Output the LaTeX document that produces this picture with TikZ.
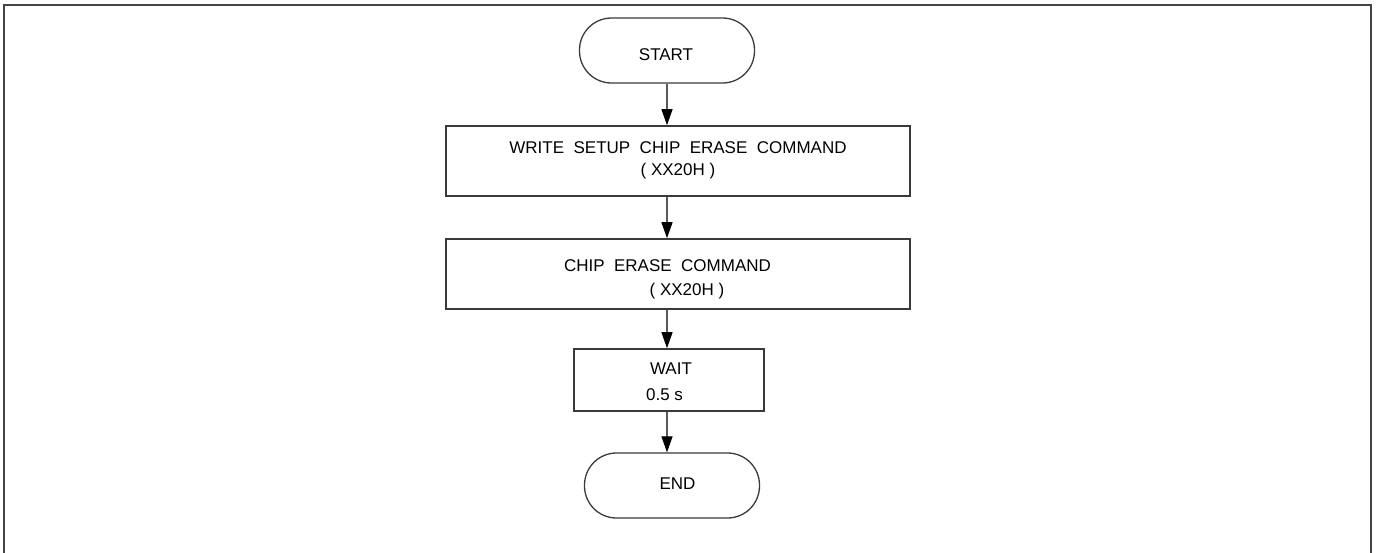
\documentclass[tikz,border=0pt]{standalone}
\usepackage{fontspec}
\setmainfont{Liberation Sans}
\usetikzlibrary{arrows.meta}
\definecolor{linec}{HTML}{3A3A3A}
\definecolor{arrc}{HTML}{5A5A5A}
\definecolor{framec}{HTML}{444444}
\begin{document}
\begin{tikzpicture}[x=1pt,y=-1pt,
  every node/.style={font=\fontsize{17}{20}\selectfont, inner sep=0pt},
  term/.style={draw=linec, line width=1.3pt, rounded corners=32pt, minimum width=175pt, minimum height=65pt},
  proc/.style={draw=linec, line width=1.6pt, minimum width=464pt, minimum height=70pt},
  waitbox/.style={draw=linec, line width=1.6pt, minimum width=190pt, minimum height=62pt},
  lbl/.style={anchor=base, text=black},
  arr/.style={draw=arrc, line width=1.2pt, -{Triangle[length=16pt,width=11pt,color=black]}}]
\useasboundingbox (0,0) rectangle (1379,552);
\clip (0,0) rectangle (1379,552);
\draw[line width=2pt, draw=framec] (4,5) rectangle (1371,562);
% nodes
\node[term] (start) at (667,50.5) {};
\node[lbl] (tstart) at (666,60) {START};
\node[proc] (b1) at (678,161) {};
\node[lbl] (t1a) at (678,153) {WRITE\ \ SETUP\ \ CHIP\ \ ERASE\ \ COMMAND};
\node[lbl] (t1b) at (678,175) {( XX20H )};
\node[proc] (b2) at (678,274) {};
\node[lbl] (t2a) at (667.5,271) {CHIP\ \ ERASE\ \ COMMAND};
\node[lbl] (t2b) at (687,295) {( XX20H )};
\node[waitbox] (wait) at (669,380) {};
\node[lbl] (t3a) at (671,374) {WAIT};
\node[lbl] (t3b) at (664.5,400) {0.5 s};
\node[term] (end) at (672,485.5) {};
\node[lbl] (tend) at (677.5,489) {END};
% connectors
\draw[arr] (start.south) -- (start.south |- b1.north);
\draw[arr] (b1.south -| start) -- (b2.north -| start);
\draw[arr] (b2.south -| start) -- (wait.north -| start);
\draw[arr] (wait.south -| start) -- (end.north -| start);
\end{tikzpicture}
\end{document}
